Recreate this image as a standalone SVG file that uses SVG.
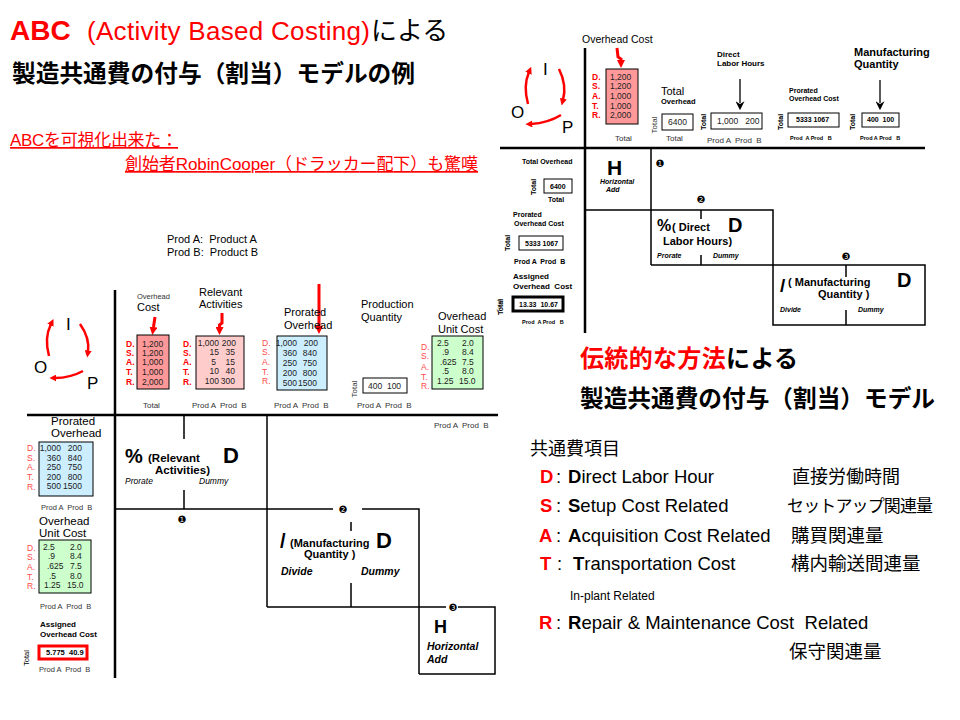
<svg xmlns="http://www.w3.org/2000/svg" width="960" height="720" viewBox="0 0 960 720">
<defs>
<style>
text{font-family:"Liberation Sans",Arial,"Noto Sans CJK JP",sans-serif}
.j{font-family:"Noto Sans CJK JP","Liberation Sans",sans-serif}
.b{font-weight:bold}
.i{font-style:italic}
.r{fill:#f00}
.lr{fill:#ff4848}
.g{fill:#333}
.v{fill:#222;font-size:8.5px}
.ln{stroke:#000;stroke-width:1.5;fill:none}
.axis{stroke:#000;stroke-width:2.5;fill:none}
.box{stroke:#000;stroke-width:1}
.arr{stroke:#f00;stroke-width:3;fill:none}
.cyc{stroke:#f00;stroke-width:2.5;fill:none}
.num{font-family:"DejaVu Sans",sans-serif;font-size:10px;text-anchor:middle}
</style>
<marker id="rh" markerUnits="userSpaceOnUse" viewBox="0 0 10 10" refX="0" refY="5" markerWidth="8" markerHeight="8" orient="auto"><path d="M0,0L10,5L0,10z" fill="#f00"/></marker>
<marker id="ch" markerUnits="userSpaceOnUse" viewBox="0 0 10 10" refX="2" refY="5" markerWidth="7" markerHeight="7" orient="auto"><path d="M0,0L10,5L0,10z" fill="#f00"/></marker>
<marker id="bh" markerUnits="userSpaceOnUse" viewBox="0 0 10 10" refX="2" refY="5" markerWidth="9" markerHeight="9" orient="auto"><path d="M0,0L10,5L0,10L3,5z" fill="#000"/></marker>
</defs>
<rect width="960" height="720" fill="#fff"/>

<g id="title">
<text x="10" y="40"><tspan class="b r" font-size="28">ABC</tspan><tspan class="r" font-size="26" x="87" textLength="283">(Activity Based Costing)</tspan><tspan font-size="26" x="371">による</tspan></text>
<text x="12" y="82" class="b" font-size="23.5" textLength="403" lengthAdjust="spacingAndGlyphs">製造共通費の付与（割当）モデルの例</text>
<text x="10" y="146" class="r" font-size="17" text-decoration="underline" textLength="168">ABCを可視化出来た：</text>
<text x="125" y="170" class="r" font-size="17" text-decoration="underline" textLength="353">創始者RobinCooper（ドラッカー配下）も驚嘆</text>
</g>

<!-- ================= LEFT (ABC) DIAGRAM ================= -->
<g id="legend">
<text x="167" y="243" font-size="11" xml:space="preserve">Prod A:  Product A</text>
<text x="167" y="256" font-size="11" xml:space="preserve">Prod B:  Product B</text>
</g>

<g id="iop-left">
<text x="66" y="330" font-size="17">I</text>
<text x="34" y="373" font-size="17">O</text>
<text x="87" y="389" font-size="17">P</text>
</g>

<g id="connectors">
<!-- left diagram axes -->
<path class="axis" d="M115,290V678M27,415H498"/>
<path class="ln" d="M267,415V607M184,415V439M184,490V509M115,509H333M362,509H419V674M351,522V531M351,583V607M267,607H446M458,607H495V674H419"/>
<!-- left arrows -->
<path class="arr" d="M155,317L153.5,327" marker-end="url(#rh)"/>
<path class="arr" d="M222,313L222,323L219.5,325L219.5,327" marker-end="url(#rh)"/>
<path class="arr" d="M319,284L319,326" marker-end="url(#rh)"/>
<path class="cyc" d="M49,356Q44,338 51,324" marker-end="url(#ch)"/>
<path class="cyc" d="M80,324Q90,338 88,352" marker-end="url(#ch)"/>
<path class="cyc" d="M83,371Q70,378 55,378" marker-end="url(#ch)"/>
<!-- right diagram axes -->
<path class="axis" d="M585,48V333M500,148H925"/>
<path class="ln" d="M651,148V265M585,210H773V325H925V265H651M701,210V219M701,255V265M846,265V277M846,310V325"/>
<!-- right arrows -->
<path class="arr" d="M617,48L618,57L621,59L621,60" marker-end="url(#rh)"/>
<path stroke="#000" stroke-width="1.3" fill="none" d="M740,79V103" marker-end="url(#bh)"/>
<path stroke="#000" stroke-width="1.3" fill="none" d="M880,80V103" marker-end="url(#bh)"/>
<path class="cyc" d="M528,104Q523,86 529,72" marker-end="url(#ch)"/>
<path class="cyc" d="M559,69Q567,85 563,100" marker-end="url(#ch)"/>
<path class="cyc" d="M561,115Q548,123 531,124" marker-end="url(#ch)"/>
</g>

<g id="overhead-cost">
<text x="137" y="299" font-size="7.5" class="g">Overhead</text>
<text x="137" y="311" font-size="11">Cost</text>
<rect x="137" y="335" width="32" height="54" fill="#ff9999" class="box"/>
<g class="b r" font-size="8.5"><text x="126" y="347">D.</text><text x="126" y="356">S.</text><text x="126" y="365">A.</text><text x="126" y="375">T.</text><text x="126" y="385">R.</text></g>
<g class="v"><text x="142" y="347">1,200</text><text x="142" y="356">1,200</text><text x="142" y="365">1,000</text><text x="142" y="375">1,000</text><text x="142" y="385">2,000</text></g>
<text x="143" y="408" font-size="8" class="g">Total</text>
</g>

<g id="relevant-activities">
<text x="199" y="296" font-size="11">Relevant</text>
<text x="199" y="308" font-size="11">Activities</text>
<rect x="196" y="336" width="48" height="53" fill="#ffcccc" class="box"/>
<g class="b r" font-size="8.5"><text x="183" y="347">D.</text><text x="183" y="356">S.</text><text x="183" y="365">A.</text><text x="183" y="375">T.</text><text x="183" y="385">R.</text></g>
<g class="v" text-anchor="end"><text x="219" y="346">1,000</text><text x="219" y="355">15</text><text x="216" y="365">5</text><text x="219" y="374">10</text><text x="219" y="384">100</text></g>
<g class="v" text-anchor="end"><text x="236" y="346">200</text><text x="235" y="355">35</text><text x="235" y="365">15</text><text x="235" y="374">40</text><text x="235" y="384">300</text></g>
<text x="192" y="408" font-size="8" class="g" xml:space="preserve">Prod A  Prod  B</text>
</g>

<g id="prorated-overhead">
<text x="284" y="316" font-size="11">Prorated</text>
<text x="284" y="329" font-size="11">Overhead</text>
<rect x="277" y="336" width="50" height="54" fill="#cceeff" class="box"/>
<g class="lr" font-size="8.5"><text x="262" y="346">D.</text><text x="262" y="355">S.</text><text x="262" y="365">A.</text><text x="262" y="375">T.</text><text x="262" y="384">R.</text></g>
<g class="v" text-anchor="end"><text x="297" y="346">1,000</text><text x="297" y="356">360</text><text x="297" y="366">250</text><text x="297" y="376">200</text><text x="297" y="386">500</text></g>
<g class="v" text-anchor="end"><text x="318" y="346">200</text><text x="317" y="356">840</text><text x="317" y="366">750</text><text x="317" y="376">800</text><text x="317" y="386">1500</text></g>
<text x="274" y="408" font-size="8" class="g" xml:space="preserve">Prod A  Prod  B</text>
</g>

<g id="production-quantity">
<text x="361" y="308" font-size="11">Production</text>
<text x="361" y="321" font-size="11">Quantity</text>
<rect x="363" y="378" width="44" height="15" fill="#fff" class="box"/>
<text x="368" y="389" class="v" xml:space="preserve">400  100</text>
<text transform="translate(357,389) rotate(-90)" text-anchor="middle" font-size="8" class="g">Total</text>
<text x="357" y="408" font-size="8" class="g" xml:space="preserve">Prod A  Prod  B</text>
</g>

<g id="overhead-unit-cost">
<text x="438" y="320" font-size="11">Overhead</text>
<text x="438" y="333" font-size="11">Unit Cost</text>
<rect x="432" y="336" width="51" height="53" fill="#ccffcc" class="box"/>
<g class="lr" font-size="8.5"><text x="421" y="350">D.</text><text x="421" y="359">S.</text><text x="421" y="370">A.</text><text x="421" y="380">T.</text><text x="421" y="389">R.</text></g>
<g class="v"><text x="437" y="346">2.5</text><text x="442" y="355">.9</text><text x="440" y="365">.625</text><text x="442" y="374">.5</text><text x="437" y="384">1.25</text></g>
<g class="v"><text x="462" y="346">2.0</text><text x="462" y="355">8.4</text><text x="462" y="365">7.5</text><text x="462" y="374">8.0</text><text x="459" y="384">15.0</text></g>
<text transform="translate(501,306) rotate(-90)" text-anchor="middle" font-size="6" class="g">Total</text>
<text x="434" y="428" font-size="8" class="g" xml:space="preserve">Prod A  Prod  B</text>
</g>

<g id="left-prorated">
<text x="51" y="425" font-size="11.5">Prorated</text>
<text x="51" y="437" font-size="11.5">Overhead</text>
<rect x="39" y="442" width="54" height="54" fill="#cceeff" class="box"/>
<g class="lr" font-size="8.5"><text x="27" y="451">D.</text><text x="27" y="461">S.</text><text x="27" y="470">A.</text><text x="27" y="480">T.</text><text x="27" y="490">R.</text></g>
<g class="v" text-anchor="end"><text x="61" y="451">1,000</text><text x="61" y="461">360</text><text x="61" y="470">250</text><text x="61" y="480">200</text><text x="61" y="489">500</text></g>
<g class="v" text-anchor="end"><text x="82" y="451">200</text><text x="82" y="461">840</text><text x="82" y="470">750</text><text x="82" y="480">800</text><text x="82" y="489">1500</text></g>
<text x="41" y="510" font-size="7.5" class="g" xml:space="preserve">Prod A  Prod  B</text>
</g>

<g id="left-unit-cost">
<text x="39" y="525" font-size="11.5">Overhead</text>
<text x="39" y="537" font-size="11.5">Unit Cost</text>
<rect x="39" y="540" width="52" height="53" fill="#ccffcc" class="box"/>
<g class="lr" font-size="8.5"><text x="27" y="551">D.</text><text x="27" y="560">S.</text><text x="27" y="570">A.</text><text x="27" y="580">T.</text><text x="27" y="589">R.</text></g>
<g class="v"><text x="43" y="550">2.5</text><text x="48" y="559">.9</text><text x="47" y="569">.625</text><text x="49" y="579">.5</text><text x="44" y="588">1.25</text></g>
<g class="v"><text x="70" y="550">2.0</text><text x="70" y="559">8.4</text><text x="70" y="569">7.5</text><text x="70" y="579">8.0</text><text x="67" y="588">15.0</text></g>
<text x="40" y="609" font-size="7.5" class="g" xml:space="preserve">Prod A  Prod  B</text>
</g>

<g id="left-assigned">
<text x="40" y="627" font-size="8" class="b">Assigned</text>
<text x="40" y="637" font-size="8" class="b">Overhead Cost</text>
<rect x="39" y="646" width="48" height="13" fill="#fff" stroke="#f00" stroke-width="3"/>
<text x="46" y="655" font-size="7.5" class="b">5.775</text>
<text x="69" y="655" font-size="7.5" class="b">40.9</text>
<text transform="translate(29,658) rotate(-90)" text-anchor="middle" font-size="7.5">Total</text>
<text x="39" y="672" font-size="7.5" class="g" xml:space="preserve">Prod A  Prod  B</text>
</g>

<g id="step1-prorate">
<text x="125" y="463" font-size="20" class="b">%</text>
<text x="148" y="462" font-size="11.5" class="b">(Relevant</text>
<text x="155" y="474" font-size="11.5" class="b">Activities)</text>
<text x="223" y="463" font-size="22" class="b">D</text>
<text x="125" y="484" font-size="8.5" class="i">Prorate</text>
<text x="199" y="484" font-size="8.5" class="i">Dummy</text>
<text x="182" y="523" class="num">❶</text>
</g>

<g id="step2-divide">
<text x="280" y="548" font-size="20" class="b">/</text>
<text x="290" y="547" font-size="11" class="b">(Manufacturing</text>
<text x="304" y="558" font-size="11" class="b">Quantity )</text>
<text x="376" y="548" font-size="22" class="b">D</text>
<text x="281" y="575" font-size="10.5" class="b i">Divide</text>
<text x="361" y="575" font-size="10.5" class="b i">Dummy</text>
<text x="343" y="513" class="num">❷</text>
</g>

<g id="step3-add">
<text x="453" y="611" class="num" font-size="9">❸</text>
<text x="434" y="633" font-size="18" class="b">H</text>
<text x="427" y="650" font-size="10.5" class="b i">Horizontal</text>
<text x="427" y="663" font-size="10.5" class="b i">Add</text>
</g>

<!-- ================= RIGHT (Traditional) DIAGRAM ================= -->
<g id="iop-right">
<text x="543" y="75" font-size="17">I</text>
<text x="511" y="118" font-size="17">O</text>
<text x="562" y="133" font-size="17">P</text>
</g>

<g id="r-overhead-cost">
<text x="582" y="43" font-size="10.5">Overhead Cost</text>
<rect x="606" y="69" width="32" height="55" fill="#ff9999" class="box"/>
<g class="b r" font-size="8.5"><text x="592" y="80">D.</text><text x="592" y="89">S.</text><text x="592" y="99">A.</text><text x="592" y="109">T.</text><text x="592" y="118">R.</text></g>
<g class="v"><text x="610" y="80">1,200</text><text x="610" y="89">1,200</text><text x="610" y="99">1,000</text><text x="610" y="109">1,000</text><text x="610" y="118">2,000</text></g>
<text x="615" y="141" font-size="8" class="g">Total</text>
</g>

<g id="r-total-overhead">
<text x="661" y="95" font-size="11">Total</text>
<text x="661" y="104" font-size="7.5" class="b">Overhead</text>
<rect x="662" y="114" width="31" height="16" fill="#fff" class="box"/>
<text x="668" y="125" class="v" font-size="8">6400</text>
<text transform="translate(657,125) rotate(-90)" text-anchor="middle" font-size="8" class="g">Total</text>
<text x="666" y="141" font-size="8" class="g">Total</text>
</g>

<g id="r-direct-labor">
<text x="717" y="57" font-size="8" class="b">Direct</text>
<text x="717" y="66" font-size="8" class="b">Labor Hours</text>
<rect x="711" y="113" width="51" height="16" fill="#fff" class="box"/>
<text x="717" y="124" class="v" font-size="8" xml:space="preserve">1,000   200</text>
<text transform="translate(706,122) rotate(-90)" text-anchor="middle" font-size="7" class="b">Total</text>
<text x="707" y="143" font-size="8" class="g" xml:space="preserve">Prod A  Prod  B</text>
</g>

<g id="r-prorated-cost">
<text x="789" y="93" font-size="7" class="b">Prorated</text>
<text x="789" y="101" font-size="7" class="b">Overhead Cost</text>
<rect x="788" y="113" width="51" height="14" fill="#fff" class="box"/>
<text x="796" y="122" font-size="7" class="b">5333 1067</text>
<text transform="translate(783,122) rotate(-90)" text-anchor="middle" font-size="7" class="b">Total</text>
<text x="790" y="140" font-size="5.5" class="b" xml:space="preserve">Prod  A Prod   B</text>
</g>

<g id="r-manufacturing-qty">
<text x="854" y="56" font-size="11" class="b">Manufacturing</text>
<text x="854" y="68" font-size="11" class="b">Quantity</text>
<rect x="862" y="113" width="37" height="14" fill="#fff" class="box"/>
<text x="867" y="122" font-size="7" class="b" xml:space="preserve">400  100</text>
<text transform="translate(855,122) rotate(-90)" text-anchor="middle" font-size="7" class="b">Total</text>
<text x="860" y="140" font-size="5.5" class="b" xml:space="preserve">Prod A Prod   B</text>
</g>

<g id="r-left-total">
<text x="522" y="164" font-size="7" class="b">Total Overhead</text>
<rect x="544" y="179" width="28" height="14" fill="#fff" class="box"/>
<text x="550" y="189" font-size="7" class="b">6400</text>
<text transform="translate(536,187) rotate(-90)" text-anchor="middle" font-size="7" class="b">Total</text>
<text x="548" y="202" font-size="7" class="b">Total</text>
</g>

<g id="r-left-prorated">
<text x="513" y="217" font-size="7" class="b">Prorated</text>
<text x="514" y="226" font-size="7" class="b">Overhead Cost</text>
<rect x="519" y="236" width="44" height="14" fill="#fff" class="box"/>
<text x="525" y="246" font-size="7" class="b">5333 1067</text>
<text transform="translate(510,243) rotate(-90)" text-anchor="middle" font-size="7" class="b">Total</text>
<text x="514" y="264" font-size="7" class="b" xml:space="preserve">Prod A  Prod  B</text>
</g>

<g id="r-left-assigned">
<text x="513" y="279" font-size="8" class="b">Assigned</text>
<text x="513" y="289" font-size="8" class="b" xml:space="preserve">Overhead  Cost</text>
<rect x="513" y="297" width="50" height="14" fill="#fff" stroke="#000" stroke-width="3"/>
<text x="519" y="307" font-size="7" class="b" xml:space="preserve">13.33  10.67</text>
<text transform="translate(503,307) rotate(-90)" text-anchor="middle" font-size="7" class="b">Total</text>
<text x="522" y="324" font-size="5.5" class="b" xml:space="preserve">Prod  A Prod   B</text>
</g>

<g id="r-step1-add">
<text x="660" y="167" class="num">❶</text>
<text x="607" y="175" font-size="21" class="b">H</text>
<text x="600" y="184" font-size="7" class="b i">Horizontal</text>
<text x="606" y="192" font-size="7" class="b i">Add</text>
</g>

<g id="r-step2-prorate">
<text x="701" y="203" class="num">❷</text>
<text x="657" y="231" font-size="16" class="b">%</text>
<text x="672" y="231" font-size="11" class="b">( Direct</text>
<text x="663" y="245" font-size="11" class="b">Labor Hours)</text>
<text x="728" y="232" font-size="20" class="b">D</text>
<text x="657" y="258" font-size="7" class="b i">Prorate</text>
<text x="713" y="258" font-size="7" class="b i">Dummy</text>
</g>

<g id="r-step3-divide">
<text x="846" y="260" class="num">❸</text>
<text x="780" y="292" font-size="19" class="b">/</text>
<text x="788" y="286" font-size="11" class="b">( Manufacturing</text>
<text x="818" y="298" font-size="11" class="b">Quantity )</text>
<text x="897" y="287" font-size="20" class="b">D</text>
<text x="780" y="312" font-size="7" class="b i">Divide</text>
<text x="858" y="312" font-size="7" class="b i">Dummy</text>
</g>

<g id="traditional-title">
<text x="580" y="367" class="b j" font-size="24" textLength="218"><tspan class="r">伝統的な方法</tspan>による</text>
<text x="580" y="407" class="b j" font-size="24" textLength="355" lengthAdjust="spacingAndGlyphs">製造共通費の付与（割当）モデル</text>
</g>

<g id="cost-items">
<text x="530" y="455" class="j" font-size="18">共通費項目</text>
<text x="540" y="483" font-size="18.5"><tspan class="b r">D</tspan><tspan x="556">:</tspan><tspan x="568" class="b">D</tspan>irect Labor Hour</text>
<text x="792" y="483" class="j" font-size="18">直接労働時間</text>
<text x="540" y="512" font-size="18.5"><tspan class="b r">S</tspan><tspan x="556">:</tspan><tspan x="568" class="b">S</tspan>etup Cost Related</text>
<text x="787" y="512" class="j" font-size="17" textLength="146">セットアップ関連量</text>
<text x="539" y="542" font-size="18.5"><tspan class="b r">A</tspan><tspan x="556">:</tspan><tspan x="568" class="b">A</tspan>cquisition Cost Related</text>
<text x="791" y="542" class="j" font-size="18.5">購買関連量</text>
<text x="540" y="570" font-size="18.5"><tspan class="b r">T</tspan><tspan x="557">:</tspan><tspan x="573" class="b">T</tspan>ransportation Cost</text>
<text x="791" y="570" class="j" font-size="18.5">構内輸送間連量</text>
<text x="570" y="600" font-size="12">In-plant Related</text>
<text x="539" y="629" font-size="18.5" xml:space="preserve"><tspan class="b r">R</tspan><tspan x="556">:</tspan><tspan x="568" class="b">R</tspan>epair &amp; Maintenance Cost  Related</text>
<text x="789" y="658" class="j" font-size="18.5">保守関連量</text>
</g>
</svg>
